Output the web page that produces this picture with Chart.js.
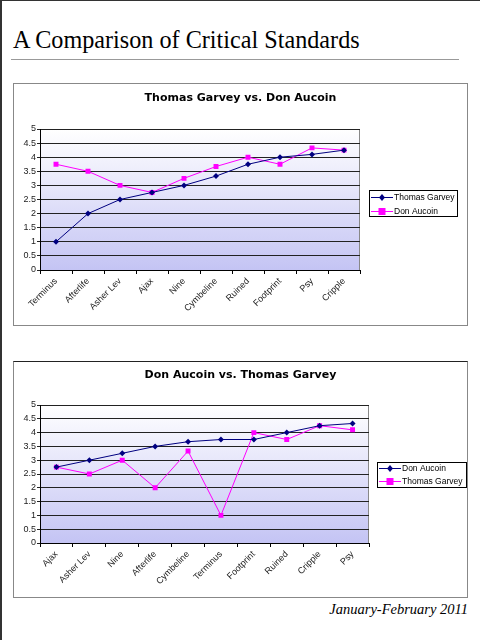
<!DOCTYPE html>
<html>
<head>
<meta charset="utf-8">
<script src="https://cdn.jsdelivr.net/npm/chart.js@4"></script>
<style>
  html, body { margin: 0; padding: 0; background: #fff; }
  body { width: 480px; height: 640px; position: relative; overflow: hidden; }
  .edge-left { position: absolute; left: 0; top: 0; width: 2px; height: 640px; background: #333; }
  .edge-top { position: absolute; left: 0; top: 0; width: 480px; height: 1px; background: #333; }
  .page-title {
    position: absolute; left: 13px; top: 28px; margin: 0; font-weight: normal;
    font: 24.2px/1 "Liberation Serif", serif; color: #000; white-space: nowrap;
  }
  .rule { position: absolute; left: 11px; top: 59px; width: 448px; height: 1px; background: #999; }
  .box { position: absolute; left: 13px; width: 453px; border: 1px solid #888; background: #fff; }
  #box1 { top: 83px; height: 241px; }
  #box2 { top: 361px; height: 235px; border-top-color: #222; }
  .box canvas { display: block; }
  .chart-title {
    position: absolute; left: 0; width: 453px; text-align: center;
    font: bold 11px/12px "DejaVu Sans", Verdana, sans-serif; color: #000;
  }
  #box1 .chart-title { top: 8px; }
  #box2 .chart-title { top: 7px; }
  .footer {
    position: absolute; right: 12px; top: 602px;
    font: italic 14.5px/1 "Liberation Serif", serif; color: #000; white-space: nowrap;
  }
</style>
</head>
<body>
<div class="edge-left"></div>
<div class="edge-top"></div>
<h1 class="page-title">A Comparison of Critical Standards</h1>
<div class="rule"></div>
<div class="box" id="box1">
  <canvas id="chart1" width="453" height="241"></canvas>
  <div class="chart-title">Thomas Garvey vs. Don Aucoin</div>
</div>
<div class="box" id="box2">
  <canvas id="chart2" width="453" height="235"></canvas>
  <div class="chart-title">Don Aucoin vs. Thomas Garvey</div>
</div>
<div class="footer">January-February 2011</div>

<script>
// scores per show
const shows1 = ['Terminus', 'Afterlife', 'Asher Lev', 'Ajax', 'Nine', 'Cymbeline', 'Ruined', 'Footprint', 'Psy', 'Cripple'];
const garvey1 = [1, 2, 2.5, 2.75, 3, 3.33, 3.75, 4, 4.1, 4.25];
const aucoin1 = [3.75, 3.5, 3, 2.75, 3.25, 3.67, 4, 3.75, 4.33, 4.25];

const shows2 = ['Ajax', 'Asher Lev', 'Nine', 'Afterlife', 'Cymbeline', 'Terminus', 'Footprint', 'Ruined', 'Cripple', 'Psy'];
const aucoin2 = [2.75, 3, 3.25, 3.5, 3.67, 3.75, 3.75, 4, 4.25, 4.33];
const garvey2 = [2.75, 2.5, 3, 2, 3.33, 1, 4, 3.75, 4.25, 4.1];

const yMin = 0;
const yMax = 5;
const yStep = 0.5;

Chart.defaults.font.family = '"Liberation Sans", Arial, sans-serif';
Chart.defaults.font.size = 9;
Chart.defaults.color = '#222';
Chart.defaults.animation = false;

// white-to-lavender plot background, like the old Excel fill
const plotFill = {
  id: 'plotFill',
  beforeDraw(chart) {
    const a = chart.chartArea;
    const ctx = chart.ctx;
    const g = ctx.createLinearGradient(0, a.top, 0, a.bottom);
    g.addColorStop(0, '#ffffff');
    g.addColorStop(1, '#c4c4f4');
    ctx.save();
    ctx.fillStyle = g;
    ctx.fillRect(a.left, a.top, a.right - a.left, a.bottom - a.top);
    ctx.strokeStyle = '#888';
    ctx.lineWidth = 1;
    ctx.strokeRect(a.left + 0.5, a.top + 0.5, a.right - a.left - 1, a.bottom - a.top);
    ctx.restore();
  }
};

// boxed legend with line + marker swatches
const boxLegend = {
  id: 'boxLegend',
  afterDraw(chart, args, opts) {
    const ctx = chart.ctx;
    const x = opts.x, y = opts.y;
    ctx.save();
    ctx.fillStyle = '#fff';
    ctx.fillRect(x, y, opts.w, opts.h);
    ctx.strokeStyle = '#000';
    ctx.lineWidth = 1;
    ctx.strokeRect(x + 0.5, y + 0.5, opts.w, opts.h);
    ctx.font = '8.5px "Liberation Sans", Arial, sans-serif';
    ctx.textBaseline = 'middle';
    chart.data.datasets.forEach((ds, i) => {
      const cy = y + opts.row0 + i * opts.rowGap;
      ctx.strokeStyle = ds.borderColor;
      ctx.beginPath();
      ctx.moveTo(x + 2, cy + 0.5);
      ctx.lineTo(x + 24, cy + 0.5);
      ctx.stroke();
      ctx.fillStyle = ds.pointBackgroundColor;
      const mx = x + 13;
      if (ds.pointStyle === 'rect') {
        ctx.fillRect(mx - 3.5, cy - 3, 7, 7);
      } else {
        ctx.beginPath();
        ctx.moveTo(mx, cy - 3);
        ctx.lineTo(mx + 3, cy + 0.5);
        ctx.lineTo(mx, cy + 4);
        ctx.lineTo(mx - 3, cy + 0.5);
        ctx.closePath();
        ctx.fill();
      }
      ctx.fillStyle = '#000';
      ctx.fillText(ds.label, x + 25, cy + 1);
    });
    ctx.restore();
  }
};

function navySeries(label, data) {
  return {
    label: label, data: data,
    borderColor: '#000080', borderWidth: 1,
    pointStyle: 'rectRot', pointRadius: 3, pointHoverRadius: 3,
    pointBackgroundColor: '#000080', pointBorderColor: '#000080', pointBorderWidth: 0,
    tension: 0
  };
}

function pinkSeries(label, data) {
  return {
    label: label, data: data,
    borderColor: '#ff00ff', borderWidth: 1,
    pointStyle: 'rect', pointRadius: 3.5, pointHoverRadius: 3.5,
    pointBackgroundColor: '#ff00ff', pointBorderColor: '#ff00ff', pointBorderWidth: 0,
    tension: 0
  };
}

function makeChart(id, labels, datasets, layout) {
  return new Chart(document.getElementById(id), {
    type: 'line',
    data: { labels: labels, datasets: datasets },
    plugins: [plotFill, boxLegend],
    options: {
      responsive: false,
      layout: { padding: { left: 0, right: layout.right, top: layout.top, bottom: 0 } },
      plugins: {
        legend: { display: false },
        tooltip: { enabled: false },
        title: { display: false },
        boxLegend: layout.legend
      },
      scales: {
        x: {
          offset: true,
          grid: { offset: true, drawOnChartArea: false, drawTicks: true, tickLength: 4, color: '#000' },
          border: { color: '#000', width: 1 },
          ticks: { autoSkip: false, minRotation: 45, maxRotation: 45, padding: 2, color: '#222' },
          afterFit(axis) { axis.height = layout.xHeight; }
        },
        y: {
          min: yMin, max: yMax,
          grid: { color: '#222', drawTicks: true, tickLength: 3 },
          border: { color: '#000', width: 1 },
          ticks: { stepSize: yStep, padding: 1, color: '#222', callback: v => String(+v) },
          afterFit(axis) { axis.width = 26; }
        }
      }
    }
  });
}

makeChart('chart1', shows1,
  [navySeries('Thomas Garvey', garvey1), pinkSeries('Don Aucoin', aucoin1)],
  { right: 107, top: 45, xHeight: 55,
    legend: { x: 355, y: 106, w: 88, h: 26, row0: 7, rowGap: 14 } });

makeChart('chart2', shows2,
  [navySeries('Don Aucoin', aucoin2), pinkSeries('Thomas Garvey', garvey2)],
  { right: 98, top: 43, xHeight: 54,
    legend: { x: 363, y: 100, w: 89, h: 25, row0: 6, rowGap: 13 } });
</script>
</body>
</html>
